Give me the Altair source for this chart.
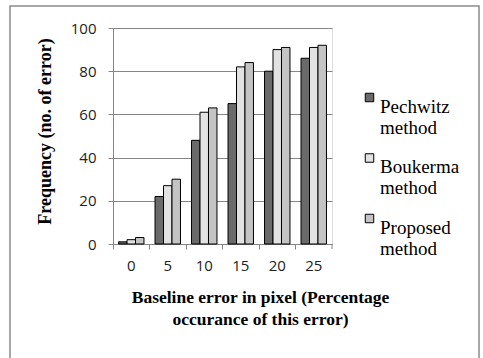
import altair as alt
import pandas as pd

categories = ["0", "5", "10", "15", "20", "25"]
series = ["Pechwitz method", "Boukerma method", "Proposed method"]
pechwitz = [1, 22, 48, 65, 80, 86]
boukerma = [2, 27, 61, 82, 90, 91]
proposed = [3, 30, 63, 84, 91, 92]

rows = []
for i, c in enumerate(categories):
    for s, vals in zip(series, [pechwitz, boukerma, proposed]):
        rows.append({"cat": c, "series": s, "value": vals[i]})
df = pd.DataFrame(rows)

W, H = 219, 216
grey = "#868686"
serif = "Liberation Serif"

bars = alt.Chart(df).mark_bar(stroke="black", strokeWidth=1).encode(
    x=alt.X("cat:N", sort=categories,
            scale=alt.Scale(paddingInner=0, paddingOuter=0),
            axis=alt.Axis(
                title=["Baseline error  in pixel  (Percentage", "occurance of this  error)"],
                titleFont=serif, titleFontSize=17.5, titleFontWeight="bold",
                titleColor="black", titleX=147, titleY=44, titleAlign="center",
                titleBaseline="top", titleLineHeight=22,
                labelAngle=0, labelFont="Open Sans", labelFontSize=15, labelColor="#222",
                labelPadding=9, bandPosition=0, tickSize=5, tickColor=grey,
                domainColor=grey, grid=False)),
    xOffset=alt.XOffset("series:N", sort=series,
                        scale=alt.Scale(paddingInner=0, paddingOuter=0.65)),
    y=alt.Y("value:Q", scale=alt.Scale(domain=[0, 100]),
            axis=alt.Axis(values=[0, 20, 40, 60, 80, 100],
                          title="Frequency (no. of error)",
                          titleFont=serif, titleFontSize=18,
                          titleFontWeight="bold", titleColor="black",
                          titleX=-68, titleY=103, titleAlign="center",
                          titleBaseline="middle",
                          labelFont="Open Sans", labelFontSize=15, labelColor="#222",
                          labelPadding=12, tickSize=5, tickColor=grey,
                          domainColor=grey, gridColor=grey)),
    fill=alt.Fill("series:N", sort=series,
                  scale=alt.Scale(domain=series, range=["#6a6a6a", "#e2e2e2", "#c4c4c4"]),
                  legend=alt.Legend(title=None, orient="none", legendX=247, legendY=60,
                                    symbolType="square", symbolSize=72,
                                    symbolStrokeColor="black", symbolStrokeWidth=1,
                                    labelFont=serif, labelFontSize=19,
                                    labelColor="black", labelLimit=200,
                                    labelExpr="split(datum.label, ' ')",
                                    labelBaseline="top",
                                    rowPadding=10.5, labelOffset=1)),
)

endtick = alt.Chart(alt.Data(values=[{}])).mark_rule(color=grey).encode(
    x=alt.value(W), y=alt.value(H), y2=alt.value(H + 5))

frame = alt.Chart(alt.Data(values=[{}])).mark_rect(
    fillOpacity=0, stroke="#8a8a8a", strokeWidth=1.5).encode(
    x=alt.value(-103), x2=alt.value(366), y=alt.value(-22), y2=alt.value(340))

chart = alt.layer(bars, endtick, frame).properties(
    width=W, height=H,
    autosize=alt.AutoSizeParams(type="none"),
    padding={"left": 113, "top": 28, "right": 151, "bottom": 114},
).configure_view(stroke=None).configure(background="white")

chart.save("out.html", embed_options={"renderer": "svg", "actions": False})
